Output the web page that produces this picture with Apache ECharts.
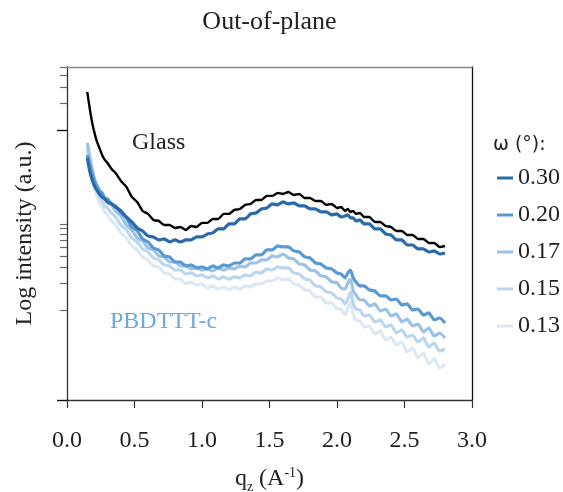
<!DOCTYPE html>
<html>
<head>
<meta charset="utf-8">
<script src="https://cdn.jsdelivr.net/npm/echarts@6/dist/echarts.min.js"></script>
<style>
  html, body { margin: 0; padding: 0; background: #ffffff; }
  #chart { width: 563px; height: 492px; }
</style>
</head>
<body>
<div id="chart"></div>
<script>
// Out-of-plane line cuts: q_z (1/A) against log10 of the scattered intensity (a.u.)
const qz = [0.15,0.16,0.17,0.18,0.19,0.20,0.22,0.24,0.26,0.28,0.30,0.33,0.36,
  0.40,0.44,0.48,0.52,0.56,0.60,0.64,0.68,0.72,0.76,0.80,0.84,0.88,0.92,0.96,1.00,
  1.04,1.08,1.12,1.16,1.20,1.24,1.28,1.32,1.36,1.40,1.44,1.48,1.52,1.56,1.60,1.64,
  1.68,1.72,1.76,1.80,1.84,1.88,1.92,1.96,2.00,2.03,2.06,2.08,2.10,2.12,2.14,2.17,
  2.20,2.24,2.28,2.32,2.36,2.40,2.44,2.48,2.52,2.56,2.60,2.64,2.68,2.72,2.76,2.80];

// bare glass substrate
const logGlass = [3.422,3.322,3.222,3.133,3.056,2.989,2.878,2.800,2.722,2.667,2.633,
  2.567,2.522,
  2.433,2.367,2.256,2.200,2.100,2.067,2.000,1.989,1.944,1.944,1.911,1.922,1.889,1.933,1.922,1.967,
  1.967,2.011,2.011,2.067,2.067,2.111,2.122,2.167,2.178,2.222,2.222,2.267,2.267,2.300,2.289,2.311,
  2.278,2.289,2.244,2.244,2.211,2.211,2.167,2.178,2.133,
  2.144,2.100,2.122,2.089,2.100,2.067,2.078,2.033,
  2.033,1.978,1.978,1.933,1.922,1.878,1.878,1.833,1.833,1.789,1.789,1.744,1.744,1.700,1.711];

// PBDTTT-c film at each incidence angle
const logW030 = [2.689,2.611,2.533,2.478,2.433,2.389,2.333,2.289,2.256,2.233,2.200,
  2.178,2.144,
  2.100,2.033,1.978,1.911,1.878,1.822,1.811,1.778,1.789,1.756,1.778,1.756,1.778,1.778,1.811,1.811,
  1.844,1.856,1.900,1.900,1.956,1.956,2.011,2.011,2.067,2.078,2.122,2.133,2.178,2.167,2.200,2.178,
  2.189,2.156,2.156,2.122,2.122,2.089,2.089,2.056,2.067,
  2.033,2.044,2.056,2.022,2.022,1.989,2.000,1.956,
  1.956,1.900,1.900,1.844,1.833,1.778,1.778,1.722,1.722,1.678,1.678,1.644,1.656,1.622,1.633];

const logW020 = [2.722,2.667,2.600,2.544,2.489,2.444,2.378,2.322,2.300,2.244,2.233,
  2.178,2.156,
  2.078,2.022,1.922,1.878,1.789,1.756,1.689,1.667,1.600,1.589,1.533,1.533,1.489,1.500,1.467,1.478,
  1.456,1.489,1.467,1.500,1.489,1.522,1.522,1.567,1.567,1.611,1.611,1.667,1.667,1.711,1.700,1.700,
  1.656,1.644,1.589,1.578,1.522,1.511,1.467,1.456,1.411,
  1.400,1.356,1.411,1.444,1.356,1.311,1.267,1.267,
  1.222,1.211,1.156,1.156,1.111,1.122,1.056,1.067,1.000,1.011,0.944,0.967,0.889,0.911,0.856];

const logW017 = [2.856,2.778,2.689,2.611,2.544,2.478,2.389,2.333,2.267,2.244,2.189,
  2.167,2.100,
  2.044,1.944,1.889,1.800,1.767,1.689,1.667,1.600,1.589,1.533,1.533,1.489,1.489,1.456,1.467,1.444,
  1.456,1.433,1.467,1.444,1.467,1.456,1.489,1.478,1.522,1.522,1.556,1.556,1.600,1.589,1.622,1.578,
  1.567,1.511,1.500,1.444,1.433,1.378,1.367,1.311,1.300,
  1.244,1.233,1.300,1.344,1.211,1.167,1.111,1.111,
  1.044,1.067,0.989,1.011,0.933,0.956,0.867,0.900,0.822,0.844,0.756,0.800,0.711,0.744,0.689];

const logW015 = [2.800,2.711,2.633,2.544,2.489,2.411,2.333,2.256,2.211,2.156,2.133,
  2.078,2.033,
  1.944,1.889,1.800,1.756,1.678,1.644,1.578,1.556,1.500,1.489,1.444,1.444,1.400,1.411,1.378,1.389,
  1.356,1.378,1.344,1.367,1.344,1.367,1.356,1.389,1.378,1.422,1.411,1.456,1.444,1.478,1.467,1.467,
  1.411,1.400,1.344,1.333,1.267,1.256,1.200,1.189,1.133,
  1.122,1.067,1.122,1.200,1.078,1.011,1.000,0.933,
  0.944,0.867,0.889,0.811,0.833,0.744,0.778,0.700,0.722,0.644,0.689,0.589,0.633,0.544,0.567];

const logW013 = [2.756,2.656,2.578,2.489,2.433,2.356,2.278,2.189,2.144,2.089,2.056,
  1.989,1.944,
  1.856,1.800,1.711,1.667,1.589,1.556,1.489,1.478,1.411,1.400,1.344,1.344,1.289,1.311,1.278,1.289,
  1.244,1.267,1.233,1.256,1.222,1.256,1.233,1.267,1.256,1.289,1.289,1.322,1.322,1.356,1.333,1.344,
  1.289,1.278,1.222,1.211,1.144,1.144,1.078,1.078,1.011,
  1.011,0.944,1.022,1.089,0.956,0.889,0.878,0.811,
  0.822,0.733,0.767,0.667,0.700,0.611,0.644,0.533,0.578,0.467,0.522,0.400,0.456,0.356,0.400];

const angleNames = ['0.30', '0.20', '0.17', '0.15', '0.13'];
const angleColors = ['#2b6aa8', '#5a9ad4', '#9cc2e5', '#bcd6ee', '#dbe8f5'];
const angleCurves = [logW030, logW020, logW017, logW015, logW013];

// axis extents and tick positions (intensity units, shown on a log10 scale)
const intensityMax = 5000;
const majorTicks = [1, 1000];
const minorTicks = [10, 20, 30, 40, 50, 60, 70, 80, 90, 2000, 3000, 4000, 5000];

const SERIF = '"Liberation Serif", "Times New Roman", serif';
const yMax = Math.log10(intensityMax);

const pairs = arr => qz.map((q, i) => [q, arr[i]]);

const lineSeries = [];
// lightest curve underneath, darkest on top
for (let k = angleNames.length - 1; k >= 0; k--) {
  lineSeries.push({
    name: angleNames[k],
    type: 'line',
    data: pairs(angleCurves[k]),
    showSymbol: false,
    symbol: 'none',
    smooth: 0.15,
    lineStyle: { color: angleColors[k], width: 3.2, join: 'round' },
    itemStyle: { color: angleColors[k] },
    z: 3
  });
}
lineSeries.push({
  name: 'Glass',
  type: 'line',
  data: pairs(logGlass),
  showSymbol: false,
  symbol: 'none',
  smooth: 0.15,
  lineStyle: { color: '#000000', width: 2.4, join: 'round' },
  itemStyle: { color: '#000000' },
  z: 4
});

const chart = echarts.init(document.getElementById('chart'), null, { renderer: 'canvas' });

chart.setOption({
  animation: false,
  backgroundColor: '#ffffff',
  grid: { left: 67, top: 67, right: 91, bottom: 92, containLabel: false, outerBoundsMode: 'none' },
  xAxis: [
    {
      type: 'value', min: 0, max: 3, interval: 0.5, position: 'bottom',
      axisLine: { show: true, onZero: false, lineStyle: { color: '#333', width: 1.3 } },
      axisTick: { show: true, length: 8, inside: false, lineStyle: { color: '#333', width: 1.2 } },
      axisLabel: {
        show: true, margin: 29, color: '#222',
        fontFamily: SERIF, fontSize: 24,
        formatter: v => v.toFixed(1)
      },
      splitLine: { show: false },
      name: '{n|q}{sub|z}{n| (A}{sup|-1}{n|)}',
      nameLocation: 'middle',
      nameGap: 64,
      nameTextStyle: {
        rich: {
          n: { fontFamily: SERIF, fontSize: 24, color: '#222', lineHeight: 30, verticalAlign: 'middle' },
          sub: { fontFamily: SERIF, fontSize: 14, color: '#222', lineHeight: 14, verticalAlign: 'bottom' },
          sup: { fontFamily: SERIF, fontSize: 14, color: '#222', lineHeight: 14, verticalAlign: 'top', padding: [2, 0, 0, 0] }
        }
      }
    },
    {
      type: 'value', min: 0, max: 3, position: 'top',
      axisLine: { show: true, onZero: false, lineStyle: { color: '#8a8a8a', width: 1.3 } },
      axisTick: { show: false }, axisLabel: { show: false }, splitLine: { show: false }
    }
  ],
  yAxis: [
    {
      type: 'value', min: 0, max: yMax, position: 'left',
      axisLine: { show: true, onZero: false, lineStyle: { color: '#333', width: 1.3 } },
      axisTick: {
        show: true, length: 10, inside: false,
        customValues: majorTicks.map(v => Math.log10(v)),
        lineStyle: { color: '#111', width: 1.4 }
      },
      axisLabel: { show: false },
      splitLine: { show: false },
      name: 'Log intensity (a.u.)',
      nameLocation: 'middle',
      nameGap: 30,
      nameTextStyle: { fontFamily: SERIF, fontSize: 24, color: '#222' }
    },
    {
      type: 'value', min: 0, max: yMax, position: 'left',
      axisLine: { show: false, onZero: false },
      axisTick: {
        show: true, length: 7, inside: false,
        customValues: minorTicks.map(v => Math.log10(v)),
        lineStyle: { color: '#6a6a6a', width: 1.2 }
      },
      axisLabel: { show: false },
      splitLine: { show: false }
    },
    {
      type: 'value', min: 0, max: yMax, position: 'right',
      axisLine: { show: true, onZero: false, lineStyle: { color: '#111', width: 1.3 } },
      axisTick: { show: false }, axisLabel: { show: false }, splitLine: { show: false }
    }
  ],
  legend: {
    data: angleNames,
    orient: 'vertical',
    left: 497,
    top: 166,
    padding: 0,
    icon: 'rect',
    itemWidth: 16,
    itemHeight: 3,
    itemGap: 13,
    textStyle: { fontFamily: SERIF, fontSize: 24, color: '#222', lineHeight: 24 },
    selectedMode: false
  },
  graphic: [
    {
      type: 'text', x: 269.5, y: 22, silent: true,
      style: { text: 'Out-of-plane', font: '26px ' + SERIF, fill: '#222', align: 'center', verticalAlign: 'middle' }
    },
    {
      type: 'text', x: 493, y: 145, silent: true,
      style: { text: 'ω (°):', font: '19px "DejaVu Sans", sans-serif', fill: '#222', align: 'left', verticalAlign: 'middle' }
    },
    {
      type: 'text', x: 132, y: 143, silent: true,
      style: { text: 'Glass', font: '24px ' + SERIF, fill: '#222', align: 'left', verticalAlign: 'middle' }
    },
    {
      type: 'text', x: 110, y: 322, silent: true,
      style: { text: 'PBDTTT-c', font: '24px ' + SERIF, fill: '#6fa8dc', align: 'left', verticalAlign: 'middle' }
    }
  ],
  series: lineSeries
});
</script>
</body>
</html>
